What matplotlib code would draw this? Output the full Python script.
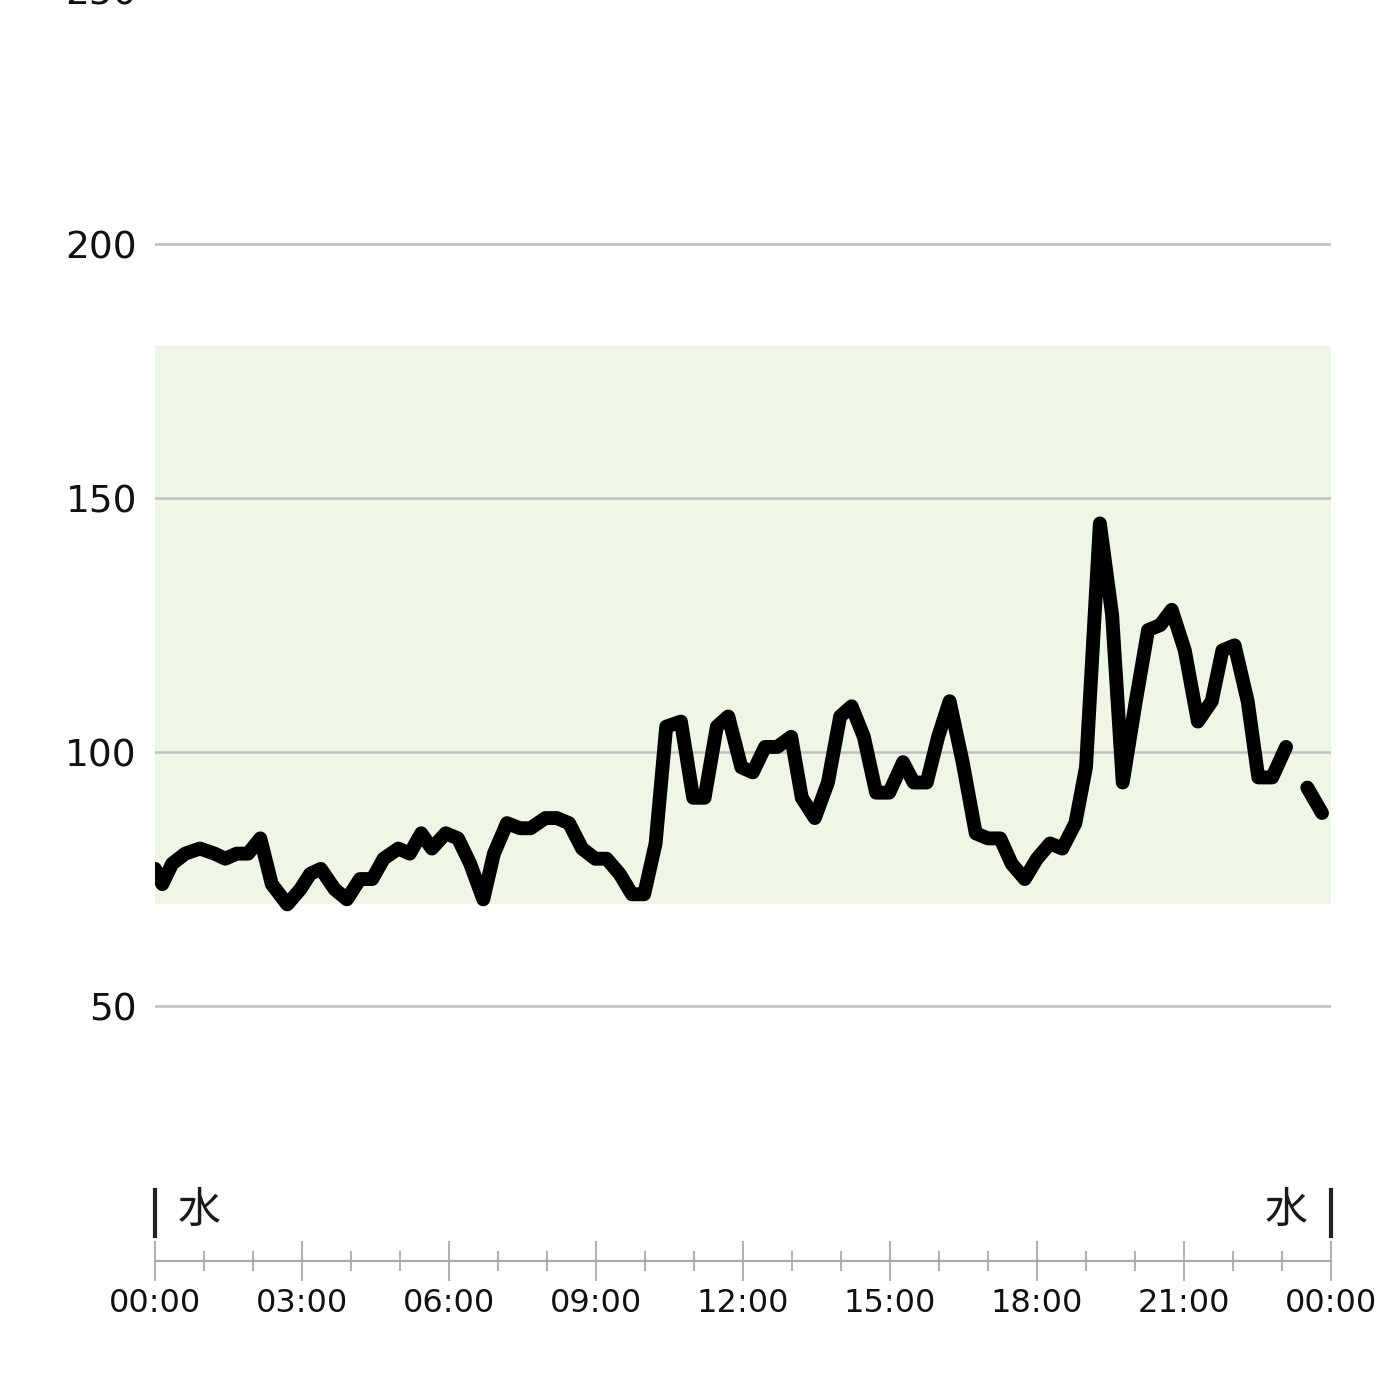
import matplotlib
matplotlib.use("Agg")
import matplotlib.pyplot as plt
import numpy as np

plt.rcParams['font.family'] = ['DejaVu Sans', 'Noto Sans CJK JP']

# sample times (minutes after 00:00) and heart-rate-like values, NaN = gap
minutes = [0, 9, 21, 37, 55, 73, 86, 100, 114, 129, 143, 162, 178, 190, 203,
           220, 235, 251, 266, 280, 298, 312, 326, 339, 356, 371, 386, 402,
           415, 431, 447, 460, 478, 492, 507, 523, 539, 553, 569, 584, 599,
           613, 626, 644, 659, 673, 688, 702, 718, 732, 747, 762, 779, 792,
           808, 824, 839, 853, 868, 883, 899, 916, 929, 945, 959, 973, 989,
           1005, 1020, 1035, 1049, 1065, 1080, 1096, 1111, 1127, 1140, 1157,
           1172, 1185, 1201, 1216, 1231, 1245, 1261, 1277, 1294, 1307, 1322,
           1338, 1351, 1368, 1385, 1398, 1411, 1429]
values = [77, 74, 78, 80, 81, 80, 79, 80, 80, 83, 74, 70, 73, 76, 77,
          73, 71, 75, 75, 79, 81, 80, 84, 81, 84, 83, 78, 71,
          80, 86, 85, 85, 87, 87, 86, 81, 79, 79, 76, 72, 72,
          82, 105, 106, 91, 91, 105, 107, 97, 96, 101, 101, 103, 91,
          87, 94, 107, 109, 103, 92, 92, 98, 94, 94, 103, 110, 98,
          84, 83, 83, 78, 75, 79, 82, 81, 86, 97, 145,
          127, 94, 110, 124, 125, 128, 120, 106, 110, 120, 121,
          110, 95, 95, 101, np.nan, 93, 88]

y_ticks = [50, 100, 150, 200, 250]
band_low, band_high = 70, 180
x_tick_minutes = [0, 180, 360, 540, 720, 900, 1080, 1260, 1440]
x_tick_labels = ["00:00", "03:00", "06:00", "09:00", "12:00", "15:00",
                 "18:00", "21:00", "00:00"]
day_label = "水"

fig = plt.figure(figsize=(14, 14), dpi=100)

# main chart
ax = fig.add_axes([0.1107, 0.1907, 0.84, 0.8164])
ax.set_xlim(0, 1440)
ax.set_ylim(25, 250)
ax.axhspan(band_low, band_high, color="#eef6e6", zorder=0, lw=0)
for yt in y_ticks:
    ax.axhline(yt, color="#c0c0c0", lw=1.8, zorder=1)
ax.plot(minutes, values, color="black", lw=10, solid_joinstyle="round",
        solid_capstyle="round", zorder=3)
ax.set_yticks(y_ticks)
ax.set_xticks([])
ax.tick_params(axis="y", length=0, pad=13, labelsize=27, labelcolor="#111111")
for s in ax.spines.values():
    s.set_visible(False)

# time axis below
tax = fig.add_axes([0.1107, 0.0993, 0.84, 0.0507])
tax.set_xlim(0, 1440)
tax.set_ylim(0, 1)
tax.patch.set_visible(False)
for name, s in tax.spines.items():
    s.set_visible(name == "bottom")
tax.spines["bottom"].set_color("#ababab")
tax.spines["bottom"].set_linewidth(1.6)
tax.set_yticks([])
tax.set_xticks(x_tick_minutes)
tax.set_xticklabels(x_tick_labels)
tax.set_xticks(range(0, 1441, 60), minor=True)
tax.tick_params(axis="x", which="major", direction="inout", length=29,
                width=1.4, color="#b0b0b0", pad=5, labelsize=23,
                labelcolor="#111111")
tax.tick_params(axis="x", which="minor", direction="inout", length=14,
                width=1.4, color="#b0b0b0")

# day markers
tax.plot([0, 0], [0.35, 1.0], color="#222222", lw=3, clip_on=False)
tax.plot([1440, 1440], [0.35, 1.0], color="#222222", lw=3, clip_on=False)
tax.text(28, 0.7, day_label, ha="left", va="center", fontsize=31,
         color="#1a1a1a")
tax.text(1412, 0.7, day_label, ha="right", va="center", fontsize=31,
         color="#1a1a1a")

fig.savefig("out.png", dpi=100)
